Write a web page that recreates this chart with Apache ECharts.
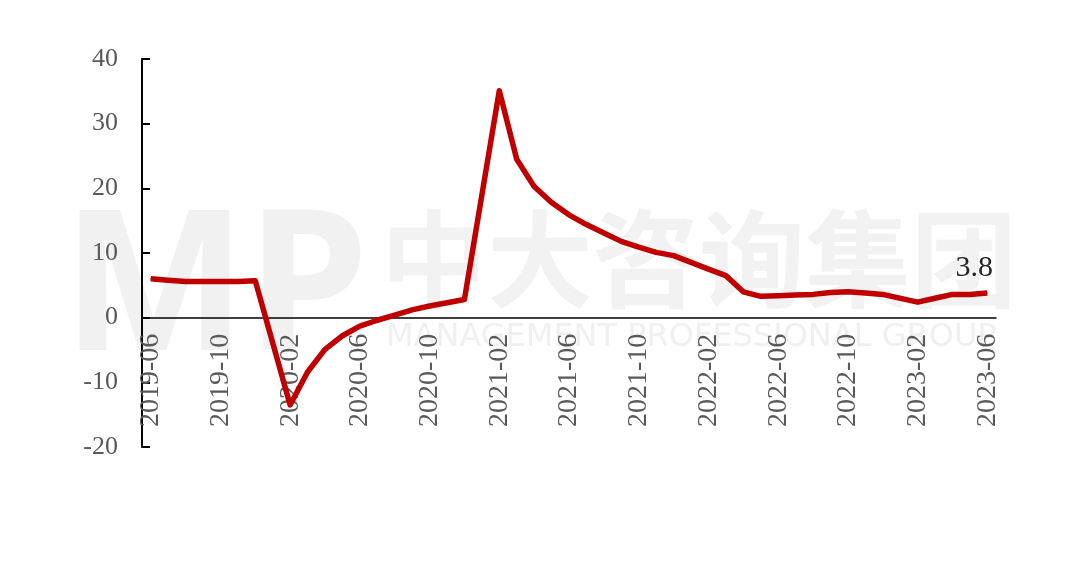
<!DOCTYPE html>
<html>
<head>
<meta charset="utf-8">
<script src="https://cdn.jsdelivr.net/npm/echarts@6/dist/echarts.min.js"></script>
<style>
html,body{margin:0;padding:0;background:#fff;}
#chart{width:1080px;height:563px;}
</style>
</head>
<body>
<div id="chart"></div>
<script>
// Monthly categories 2019-06 .. 2023-06
const categories = [
  '2019-06','2019-07','2019-08','2019-09','2019-10','2019-11','2019-12',
  '2020-01','2020-02','2020-03','2020-04','2020-05','2020-06','2020-07','2020-08','2020-09','2020-10','2020-11','2020-12',
  '2021-01','2021-02','2021-03','2021-04','2021-05','2021-06','2021-07','2021-08','2021-09','2021-10','2021-11','2021-12',
  '2022-01','2022-02','2022-03','2022-04','2022-05','2022-06','2022-07','2022-08','2022-09','2022-10','2022-11','2022-12',
  '2023-01','2023-02','2023-03','2023-04','2023-05','2023-06'
];
// cumulative YoY growth (%), January not published (null)
const values = [
  6.0, 5.8, 5.6, 5.6, 5.6, 5.6, 5.7,
  null, -13.5, -8.4, -4.9, -2.8, -1.3, -0.4, 0.4, 1.2, 1.8, 2.3, 2.8,
  null, 35.1, 24.5, 20.3, 17.8, 15.9, 14.4, 13.1, 11.8, 10.9, 10.1, 9.6,
  null, 7.5, 6.5, 4.0, 3.3, 3.4, 3.5, 3.6, 3.9, 4.0, 3.8, 3.6,
  null, 2.4, 3.0, 3.6, 3.6, 3.8
];
const yMin = -20, yMax = 40, yStep = 10;
const lastLabel = '3.8';

const serif = '"Liberation Serif", "Times New Roman", serif';
const lastIdx = values.length - 1;
const seriesData = values.map((v, i) => i === lastIdx ? {
  value: v,
  label: {
    show: true, position: 'top', offset: [-13, -4],
    formatter: lastLabel, fontSize: 30, fontFamily: serif, color: '#262626'
  }
} : v);

const chart = echarts.init(document.getElementById('chart'), null, {renderer: 'canvas'});
const gridBottom = 116;
chart.setOption({
  animation: false,
  backgroundColor: '#ffffff',
  grid: {left: 142, right: 84, top: 59, bottom: gridBottom, containLabel: false},
  graphic: [
    {type: 'text', left: 62, top: 196, z: -10, silent: true,
     style: {text: 'MP', fontSize: 196, fontWeight: 'bold', fontFamily: '"Noto Sans", sans-serif', fill: '#f1f1f1'}},
    {type: 'text', left: 381, top: 206, z: -10, silent: true,
     style: {text: '中大咨询集团', fontSize: 106, fontWeight: 'bold', fontFamily: '"Noto Sans CJK SC", sans-serif', fill: '#f2f2f2'}},
    {type: 'text', left: 386, top: 322, z: -10, silent: true,
     style: {text: 'MANAGEMENT PROFESSIONAL GROUP', fontSize: 32, fontFamily: '"DejaVu Sans", sans-serif', fill: '#f0f0f0'}}
  ],
  xAxis: {
    type: 'category',
    data: categories,
    boundaryGap: true,
    axisLine: {onZero: false, lineStyle: {color: '#000', width: 1.5}},
    axisTick: {show: false},
    axisLabel: {
      interval: 3, rotate: 90, margin: 16,
      fontSize: 28, fontFamily: serif, color: '#595959'
    },
    splitLine: {show: false}
  },
  yAxis: {
    type: 'value',
    min: yMin, max: yMax, interval: yStep,
    axisLine: {show: true, lineStyle: {color: '#000', width: 2}},
    axisTick: {show: true, inside: true, length: 8, lineStyle: {color: '#000', width: 2}},
    axisLabel: {fontSize: 26, fontFamily: serif, color: '#595959', margin: 24},
    splitLine: {show: false}
  },
  series: [{
    type: 'line',
    data: seriesData,
    connectNulls: true,
    symbol: 'circle',
    symbolSize: 1,
    showSymbol: true,
    itemStyle: {color: '#C00000'},
    lineStyle: {color: '#C00000', width: 5.5, join: 'round'},
    z: 5
  }]
});
// move the category axis (line + labels) to the zero line using the value scale
const zeroY = chart.convertToPixel({yAxisIndex: 0}, 0);
const bottomY = 563 - gridBottom;
chart.setOption({xAxis: {offset: zeroY - bottomY}});
</script>
</body>
</html>
